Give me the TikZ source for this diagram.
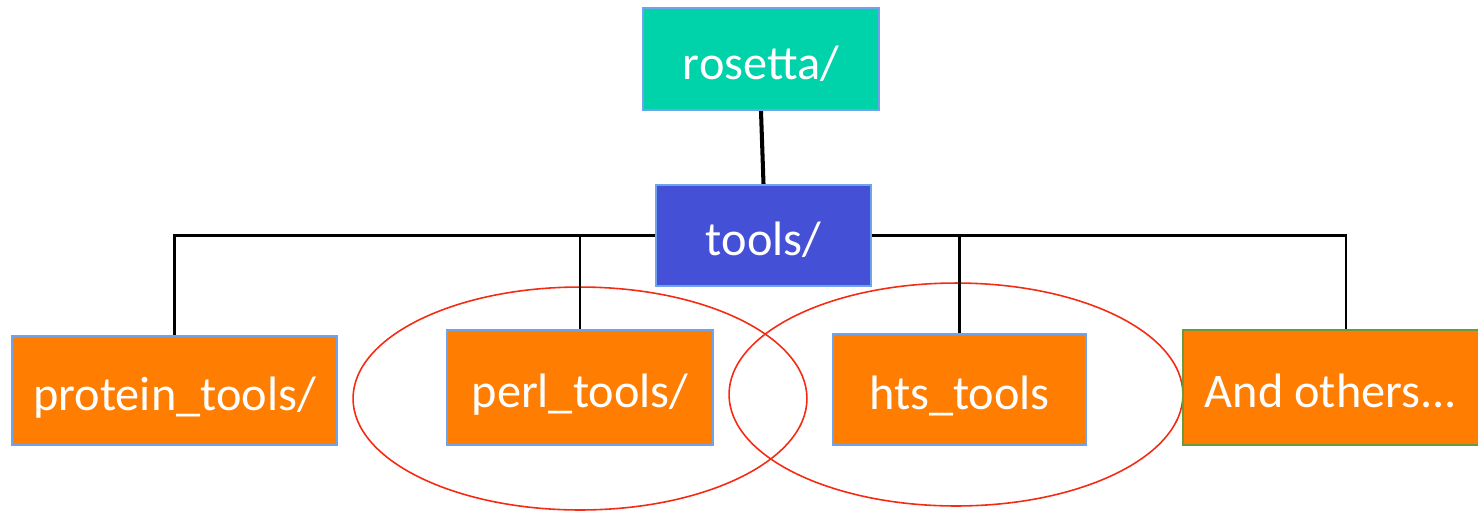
\documentclass[tikz,border=0pt]{standalone}
\usepackage{fontspec}
\setmainfont{Carlito}
\usetikzlibrary{positioning}
\definecolor{teal}{HTML}{00D2AA}
\definecolor{toolblue}{HTML}{4450D6}
\definecolor{dirorange}{HTML}{FF7D00}
\definecolor{edgeblue}{HTML}{6FA3EE}
\definecolor{edgegreen}{HTML}{6B9A3E}
\definecolor{ringred}{HTML}{F52A12}
\begin{document}
\begin{tikzpicture}[
  x=0.02cm, y=-0.02cm,
  dirbox/.style={rectangle, draw=edgeblue, line width=1.3pt, fill=dirorange, text=white, text centered, inner sep=0pt, text height=0.9cm, text depth=0.1cm, font=\fontsize{27.5}{32}\selectfont},
  branch/.style={line width=1.3pt},
  ring/.style={draw=ringred, line width=0.9pt}
]
\useasboundingbox (0,0) rectangle (1478,512);

% Directory boxes
\node[dirbox, fill=teal, minimum width=4.72cm, minimum height=2.04cm] (rosetta) at (761, 59) {rosetta/};
\node[dirbox, fill=toolblue, minimum width=4.3cm, minimum height=2.02cm] (tools) at (763.5, 235.5) {tools/};
\node[dirbox, minimum width=6.5cm, minimum height=2.18cm] (protein) at (174.5, 390.5) {protein\_tools/};
\node[dirbox, minimum width=5.32cm, minimum height=2.3cm] (perl) at (580, 387.5) {perl\_tools/};
\node[dirbox, minimum width=5.06cm, minimum height=2.22cm] (hts) at (959.5, 389.5) {hts\_tools};

% Circled groups
\draw[ring] (580, 398.5) ellipse [x radius=4.54cm, y radius=2.23cm];
\draw[ring] (956, 394.5) ellipse [x radius=4.54cm, y radius=2.23cm];

\node[dirbox, draw=edgegreen, minimum width=5.92cm, minimum height=2.3cm] (others) at (1331, 387.5) {And others...};

% Lines
\draw[line width=2.3pt] (rosetta.south) -- (tools.north);
\draw[branch] (tools.west) -| (protein.north);
\draw[branch] (tools.west) -| (perl.north);
\draw[branch] (tools.east) -| (hts.north);
\draw[branch] (tools.east) -| ([xshift=0.3cm]others.north);

\end{tikzpicture}
\end{document}
